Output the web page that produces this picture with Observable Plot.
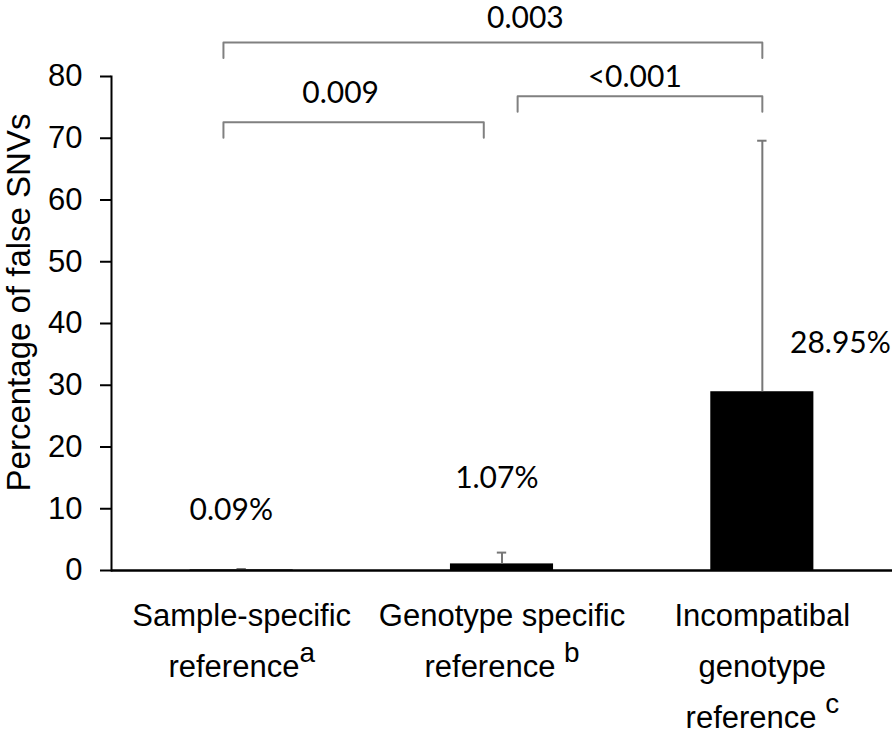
<!DOCTYPE html>
<html><head><meta charset="utf-8">
<script src="https://cdn.jsdelivr.net/npm/d3@7"></script>
<script src="https://cdn.jsdelivr.net/npm/@observablehq/plot@0.6"></script>
<style>body{margin:0;background:#fff}</style>
</head><body><div id="chart"></div>
<script>
// ---- data ----
const categories = ["Sample-specific\nreference^a", "Genotype specific\nreference ^b", "Incompatibal\ngenotype\nreference ^c"];
const values = [0.09, 1.07, 28.95];
const errors = [0.15, 1.83, 40.65];
const valueLabels = ["0.09%", "1.07%", "28.95%"];
const yTicks = [0, 10, 20, 30, 40, 50, 60, 70, 80];
const compFrom = [0, 0, 1];
const compTo = [2, 1, 2];
const pValues = ["0.003", "0.009", "<0.001"];
const yTitle = "Percentage of false SNVs";

// ---- layout (annotation placement) ----
const barHalf = 0.198;
const capHalf = 0.018;
const bracketLayout = [
  {x1: -0.07, x2: 2.0, y: 85.5, tx: 1.09, ty: 89.4},
  {x1: -0.07, x2: 0.93, y: 72.6, tx: 0.38, ty: 77.2},
  {x1: 1.06, x2: 2.0, y: 76.8, tx: 1.51, ty: 79.8}
];
const bracketDrop = 2.5;
const labelLayout = [{dx: -0.04, y: 9.7}, {dx: -0.02, y: 14.9}, {dx: 0.30, y: 36.8}];

const data = categories.map((c, i) => ({i, c, v: values[i], e: errors[i], lab: valueLabels[i]}));
const comps = pValues.map((p, k) => ({k, from: compFrom[k], to: compTo[k], p}));
const bracketPts = comps.flatMap(d => {
  const L = bracketLayout[d.k];
  return [
    {k: d.k, x: L.x1, y: L.y - bracketDrop},
    {k: d.k, x: L.x1, y: L.y},
    {k: d.k, x: L.x2, y: L.y},
    {k: d.k, x: L.x2, y: L.y - bracketDrop}
  ];
});

const sans = "'Liberation Sans', Arial, sans-serif";
const calib = "Lato, 'Open Sans', sans-serif";

const svg = Plot.plot({
  width: 894, height: 736,
  marginTop: 76, marginBottom: 166, marginLeft: 111, marginRight: 2,
  x: {domain: [-0.5, 2.5], axis: null},
  y: {domain: [0, 80], axis: null},
  style: {fontFamily: sans, background: "#fff", color: "#000"},
  marks: [
    Plot.axisY(yTicks, {anchor: "left", tickSize: 11, tickPadding: 18, fontSize: 31, strokeWidth: 2, tickFormat: d => d, label: null, fontFamily: sans}),
    Plot.rectY(data, {x1: d => d.i - barHalf, x2: d => d.i + barHalf, y: "v", fill: "#000"}),
    Plot.ruleX(data, {x: "i", y1: "v", y2: d => d.v + d.e, stroke: "#777", strokeWidth: 2}),
    Plot.ruleY(data, {x1: d => d.i - capHalf, x2: d => d.i + capHalf, y: d => d.v + d.e, stroke: "#777", strokeWidth: 2}),
    Plot.frame({anchor: "left", stroke: "#000", strokeWidth: 2}),
    Plot.ruleY([0], {stroke: "#000", strokeWidth: 2.5}),
    Plot.line(bracketPts, {x: "x", y: "y", z: "k", stroke: "#808080", strokeWidth: 2}),
    Plot.text(comps, {x: d => bracketLayout[d.k].tx, y: d => bracketLayout[d.k].ty, text: "p", fontFamily: calib, fontSize: 30, fill: "#000"}),
    Plot.text(data, {x: d => d.i + labelLayout[d.i].dx, y: d => labelLayout[d.i].y, text: "lab", fontFamily: calib, fontSize: 30, fill: "#000"}),
    Plot.text(data, {x: "i", y: () => 0, text: "c", lineAnchor: "top", dy: 19, lineHeight: 1.65, fontSize: 31, fontFamily: sans, fill: "#000"}),
    Plot.text([yTitle], {frameAnchor: "left", textAnchor: "middle", rotate: -90, dx: -92, dy: -21, fontSize: 33, fontFamily: sans, fill: "#000"})
  ]
});

function addSup(el) {
  const t = el.textContent;
  const [a, b] = t.split("^");
  el.textContent = a;
  d3.select(el).append("tspan").attr("baseline-shift", "super").attr("font-size", "0.9em").text(b);
}
d3.select(svg).selectAll("tspan").each(function() { if (this.textContent.includes("^")) addSup(this); });
d3.select(svg).selectAll("text").each(function() { if (this.childElementCount === 0 && this.textContent.includes("^")) addSup(this); });
document.getElementById("chart").appendChild(svg);
</script>
</body></html>
